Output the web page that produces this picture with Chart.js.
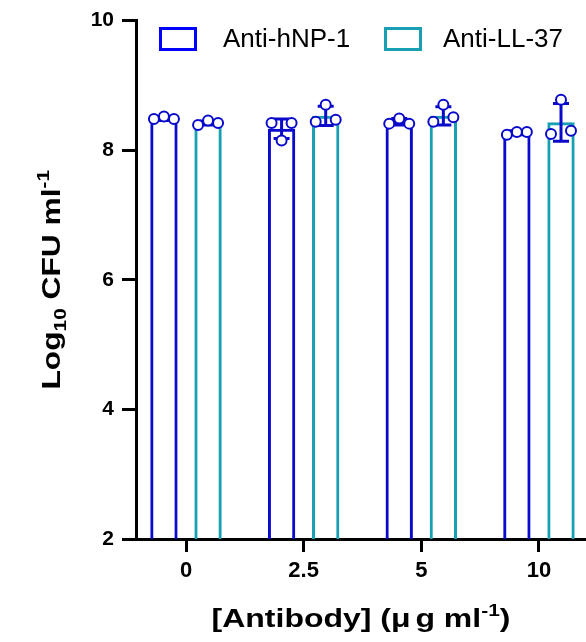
<!DOCTYPE html>
<html>
<head>
<meta charset="utf-8">
<script src="https://cdn.jsdelivr.net/npm/chart.js@4.4.1/dist/chart.umd.min.js"></script>
<style>
  html, body { margin: 0; padding: 0; background: #fff; }
  #wrap { width: 586px; height: 642px; }
</style>
</head>
<body>
<div id="wrap"><canvas id="cfuChart"></canvas></div>
<script>
// --- dados ---
const categories = ['0', '2.5', '5', '10'];
const seriesNames = ['Anti-hNP-1', 'Anti-LL-37'];

const hnpMeans = [8.49, 8.33, 8.44, 8.27];
const hnpSd = [0.03, 0.15, 0.05, 0.03];
const hnpPoints = [
    [8.48, 8.52, 8.48],
    [8.42, 8.15, 8.42],
    [8.41, 8.49, 8.41],
    [8.24, 8.28, 8.28]
];

const llMeans = [8.42, 8.53, 8.53, 8.43];
const llSd = [0.03, 0.15, 0.14, 0.29];
const llPoints = [
    [8.39, 8.46, 8.42],
    [8.44, 8.70, 8.47],
    [8.44, 8.70, 8.51],
    [8.25, 8.78, 8.30]
];

const yTicks = [2, 4, 6, 8, 10];

// --- estilo ---
const FONT = 'Arial, "Liberation Sans", sans-serif';
const BLUE = '#0a0acc';
const BLUE_LEGEND = '#0000ff';
const TEAL = '#17a0b4';
const CAT_PCT = 0.75;
const BAR_PCT = 0.62;
const JITTER = 0.085;

function barData(means) {
    return means.map((m, i) => ({ x: i, y: m }));
}

function pointData(points, side) {
    const out = [];
    const center = side * CAT_PCT / 4; // centro da barra dentro do grupo
    points.forEach((reps, i) => {
        reps.forEach((v, j) => {
            out.push({ x: i + center + (j - 1) * JITTER, y: v });
        });
    });
    return out;
}

// barras de erro (média ± DP), desenhadas logo depois de cada barra
const errorBarPlugin = {
    id: 'errorBars',
    afterDatasetDraw(chart, args) {
        const meta = args.meta;
        if (meta.type !== 'bar') return;
        const ds = chart.data.datasets[args.index];
        const y = chart.scales.y;
        const ctx = chart.ctx;
        ctx.save();
        ctx.strokeStyle = BLUE;
        ctx.lineWidth = 3;
        meta.data.forEach((bar, i) => {
            const m = ds.data[i].y;
            const sd = ds.errorBars[i];
            const top = y.getPixelForValue(m + sd);
            const bot = y.getPixelForValue(m - sd);
            ctx.beginPath();
            ctx.moveTo(bar.x, top);
            ctx.lineTo(bar.x, bot);
            ctx.moveTo(bar.x - 8, top);
            ctx.lineTo(bar.x + 8, top);
            ctx.moveTo(bar.x - 8, bot);
            ctx.lineTo(bar.x + 8, bot);
            ctx.stroke();
        });
        ctx.restore();
    }
};

// texto com sub/sobrescrito, esticado na horizontal como no original
function drawRich(ctx, parts, stretch) {
    let total = 0;
    parts.forEach(p => {
        ctx.font = p.font;
        p.w = ctx.measureText(p.t).width + (p.gap || 0);
        total += p.w;
    });
    ctx.scale(stretch, 1);
    let x = -total / 2;
    parts.forEach(p => {
        ctx.font = p.font;
        ctx.fillText(p.t, x, p.dy || 0);
        x += p.w;
    });
}

const titlesPlugin = {
    id: 'titlesLegend',
    afterDraw(chart) {
        const ctx = chart.ctx;
        const area = chart.chartArea;
        ctx.save();
        ctx.fillStyle = '#000';
        ctx.textAlign = 'left';

        // legenda
        const legend = [
            { label: seriesNames[0], color: BLUE_LEGEND, box: 160.5, text: 223 },
            { label: seriesNames[1], color: TEAL, box: 385.5, text: 443 }
        ];
        legend.forEach(item => {
            ctx.strokeStyle = item.color;
            ctx.lineWidth = 3;
            ctx.strokeRect(item.box, 28.5, 35, 21);
            ctx.font = '26px ' + FONT;
            ctx.textBaseline = 'middle';
            ctx.fillText(item.label, item.text, 40);
        });
        ctx.textBaseline = 'alphabetic';

        const big = 'bold 26px ' + FONT;
        const small = 'bold 17px ' + FONT;

        // título do eixo x
        ctx.save();
        ctx.translate((area.left + area.right) / 2, 627);
        drawRich(ctx, [
            { t: '[Antibody] (', font: big },
            { t: 'μ', font: big, gap: 4 },
            { t: 'g ml', font: big },
            { t: '-1', font: small, dy: -11 },
            { t: ')', font: big }
        ], 1.23);
        ctx.restore();

        // título do eixo y
        ctx.save();
        ctx.translate(60, (area.top + area.bottom) / 2);
        ctx.rotate(-Math.PI / 2);
        drawRich(ctx, [
            { t: 'Log', font: big },
            { t: '10', font: small, dy: 6 },
            { t: ' CFU ml', font: big },
            { t: '-1', font: small, dy: -11 }
        ], 1.22);
        ctx.restore();
        ctx.restore();
    }
};

const ctx = document.getElementById('cfuChart').getContext('2d');
new Chart(ctx, {
    type: 'bar',
    data: {
        datasets: [
            {
                type: 'scatter', label: seriesNames[0] + ' pts', data: pointData(hnpPoints, -1),
                pointRadius: 5, pointBorderWidth: 2, pointBorderColor: BLUE,
                pointBackgroundColor: '#fff', order: 0
            },
            {
                type: 'scatter', label: seriesNames[1] + ' pts', data: pointData(llPoints, 1),
                pointRadius: 5, pointBorderWidth: 2, pointBorderColor: BLUE,
                pointBackgroundColor: '#fff', order: 0
            },
            {
                label: seriesNames[0], data: barData(hnpMeans), errorBars: hnpSd,
                backgroundColor: 'rgba(255,255,255,0)', borderColor: BLUE, borderWidth: 3,
                categoryPercentage: CAT_PCT, barPercentage: BAR_PCT, order: 1
            },
            {
                label: seriesNames[1], data: barData(llMeans), errorBars: llSd,
                backgroundColor: 'rgba(255,255,255,0)', borderColor: TEAL, borderWidth: 3,
                categoryPercentage: CAT_PCT, barPercentage: BAR_PCT, order: 1
            }
        ]
    },
    options: {
        responsive: true,
        maintainAspectRatio: false,
        animation: false,
        devicePixelRatio: 1,
        layout: { autoPadding: false, padding: { top: 19, right: 0, left: 0, bottom: 0 } },
        plugins: {
            legend: { display: false },
            tooltip: { enabled: false }
        },
        scales: {
            x: {
                type: 'linear',
                offset: false,
                min: -0.425,
                max: 3.40,
                afterBuildTicks: s => { s.ticks = categories.map((c, i) => ({ value: i })); },
                afterFit: s => {
                    s.height = 103;
                    s.paddingLeft = 0;   // o eixo vai até a borda direita
                    s.paddingRight = 0;
                },
                ticks: {
                    callback: (v, i) => categories[i],
                    font: { family: FONT, size: 22, weight: 'bold' },
                    color: '#000',
                    padding: 6,
                    maxRotation: 0
                },
                grid: { offset: false, drawOnChartArea: false, tickLength: 13, tickWidth: 3, tickColor: '#000' },
                border: { color: '#000', width: 3 }
            },
            y: {
                min: 2,
                max: 10,
                afterBuildTicks: s => { s.ticks = yTicks.map(v => ({ value: v })); },
                afterFit: s => { s.width = 136; },
                ticks: {
                    font: { family: FONT, size: 21, weight: 'bold' },
                    color: '#000',
                    padding: 8
                },
                grid: { drawOnChartArea: false, tickLength: 14, tickWidth: 3, tickColor: '#000' },
                border: { color: '#000', width: 3 }
            }
        }
    },
    plugins: [errorBarPlugin, titlesPlugin]
});
</script>
</body>
</html>
